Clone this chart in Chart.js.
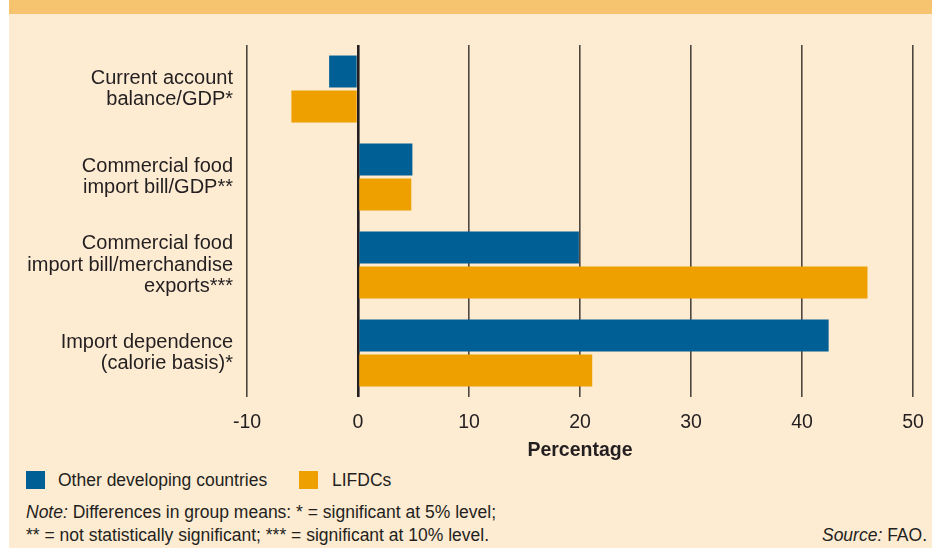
<!DOCTYPE html>
<html lang="en">
<head>
<meta charset="UTF-8">
<title>Food import indicators</title>
<script src="https://cdn.jsdelivr.net/npm/chart.js"></script>
<style>
  body { margin: 0; background: #fff; font-family: "Liberation Sans", Arial, sans-serif; color: #231f20; }
  #page { position: relative; width: 932px; height: 548px; overflow: hidden; }
  #paper { position: absolute; left: 9px; top: 0; width: 923px; height: 548px; background: #fdebd2; }
  #band { position: absolute; left: 9px; top: 0; width: 923px; height: 14px; background: #f6c46e; }
  #wrap { position: absolute; left: 0; top: 0; width: 932px; height: 470px; }
  .sw { position: absolute; width: 19px; height: 18px; }
  .txt { position: absolute; white-space: nowrap; }
</style>
</head>
<body>
<div id="page">
  <div id="paper"></div>
  <div id="band"></div>
  <div id="wrap"><canvas id="chart"></canvas></div>

  <div class="sw" style="left:26px; top:471px; background:#005f95;"></div>
  <div class="txt" style="left:58px; top:470px; font-size:17.5px;">Other developing countries</div>
  <div class="sw" style="left:299px; top:471px; background:#eea000;"></div>
  <div class="txt" style="left:332px; top:470px; font-size:17.5px;">LIFDCs</div>

  <div class="txt" style="left:26px; top:502px; font-size:17.5px;"><i>Note:</i> Differences in group means: * = significant at 5% level;</div>
  <div class="txt" style="left:26px; top:525px; font-size:17.5px;">** = not statistically significant; *** = significant at 10% level.</div>
  <div class="txt" style="right:5px; top:525px; font-size:17.5px;"><i>Source:</i> FAO.</div>
</div>

<script>
  // categories (multi-line labels) and values, in percent
  const categories = [
    ['Current account', 'balance/GDP*'],
    ['Commercial food', 'import bill/GDP**'],
    ['Commercial food', 'import bill/merchandise', 'exports***'],
    ['Import dependence', '(calorie basis)*']
  ];
  const otherDeveloping = [-2.6, 4.9, 19.9, 42.4];
  const lifdcs = [-6.0, 4.8, 45.9, 21.1];
  const seriesNames = ['Other developing countries', 'LIFDCs'];
  const xMin = -10;
  const xMax = 50;
  const xStep = 10;

  const ink = '#231f20';
  const font = '"Liberation Sans", Arial, sans-serif';

  new Chart(document.getElementById('chart'), {
    type: 'bar',
    data: {
      labels: categories,
      datasets: [
        { label: seriesNames[0], data: otherDeveloping, backgroundColor: '#005f95', categoryPercentage: 0.795, barPercentage: 0.914 },
        { label: seriesNames[1], data: lifdcs, backgroundColor: '#eea000', categoryPercentage: 0.795, barPercentage: 0.914 }
      ]
    },
    options: {
      indexAxis: 'y',
      responsive: true,
      maintainAspectRatio: false,
      animation: false,
      layout: { padding: { top: 45, right: 19, left: 0, bottom: 0 } },
      plugins: { legend: { display: false }, tooltip: { enabled: false } },
      scales: {
        x: {
          min: xMin, max: xMax,
          border: { display: false },
          grid: {
            drawTicks: false,
            color: (c) => c.tick && c.tick.value === 0 ? '#231f20' : '#4d4641',
            lineWidth: (c) => c.tick && c.tick.value === 0 ? 2.6 : 1.6
          },
          ticks: { stepSize: xStep, color: ink, padding: 14, font: { family: font, size: 19.5 } },
          title: { display: true, text: 'Percentage', color: ink, padding: { top: 0, bottom: 8 }, font: { family: font, size: 19.5, weight: 'bold' } },
          afterFit: (s) => { s.height = 73; s.paddingLeft = 0; s.paddingRight = 0; }
        },
        y: {
          border: { display: false },
          grid: { display: false, drawTicks: false },
          ticks: { color: ink, padding: 14, font: { family: font, size: 20, lineHeight: 1.08 } },
          afterFit: (s) => { s.width = 247; }
        }
      }
    }
  });
</script>
</body>
</html>
